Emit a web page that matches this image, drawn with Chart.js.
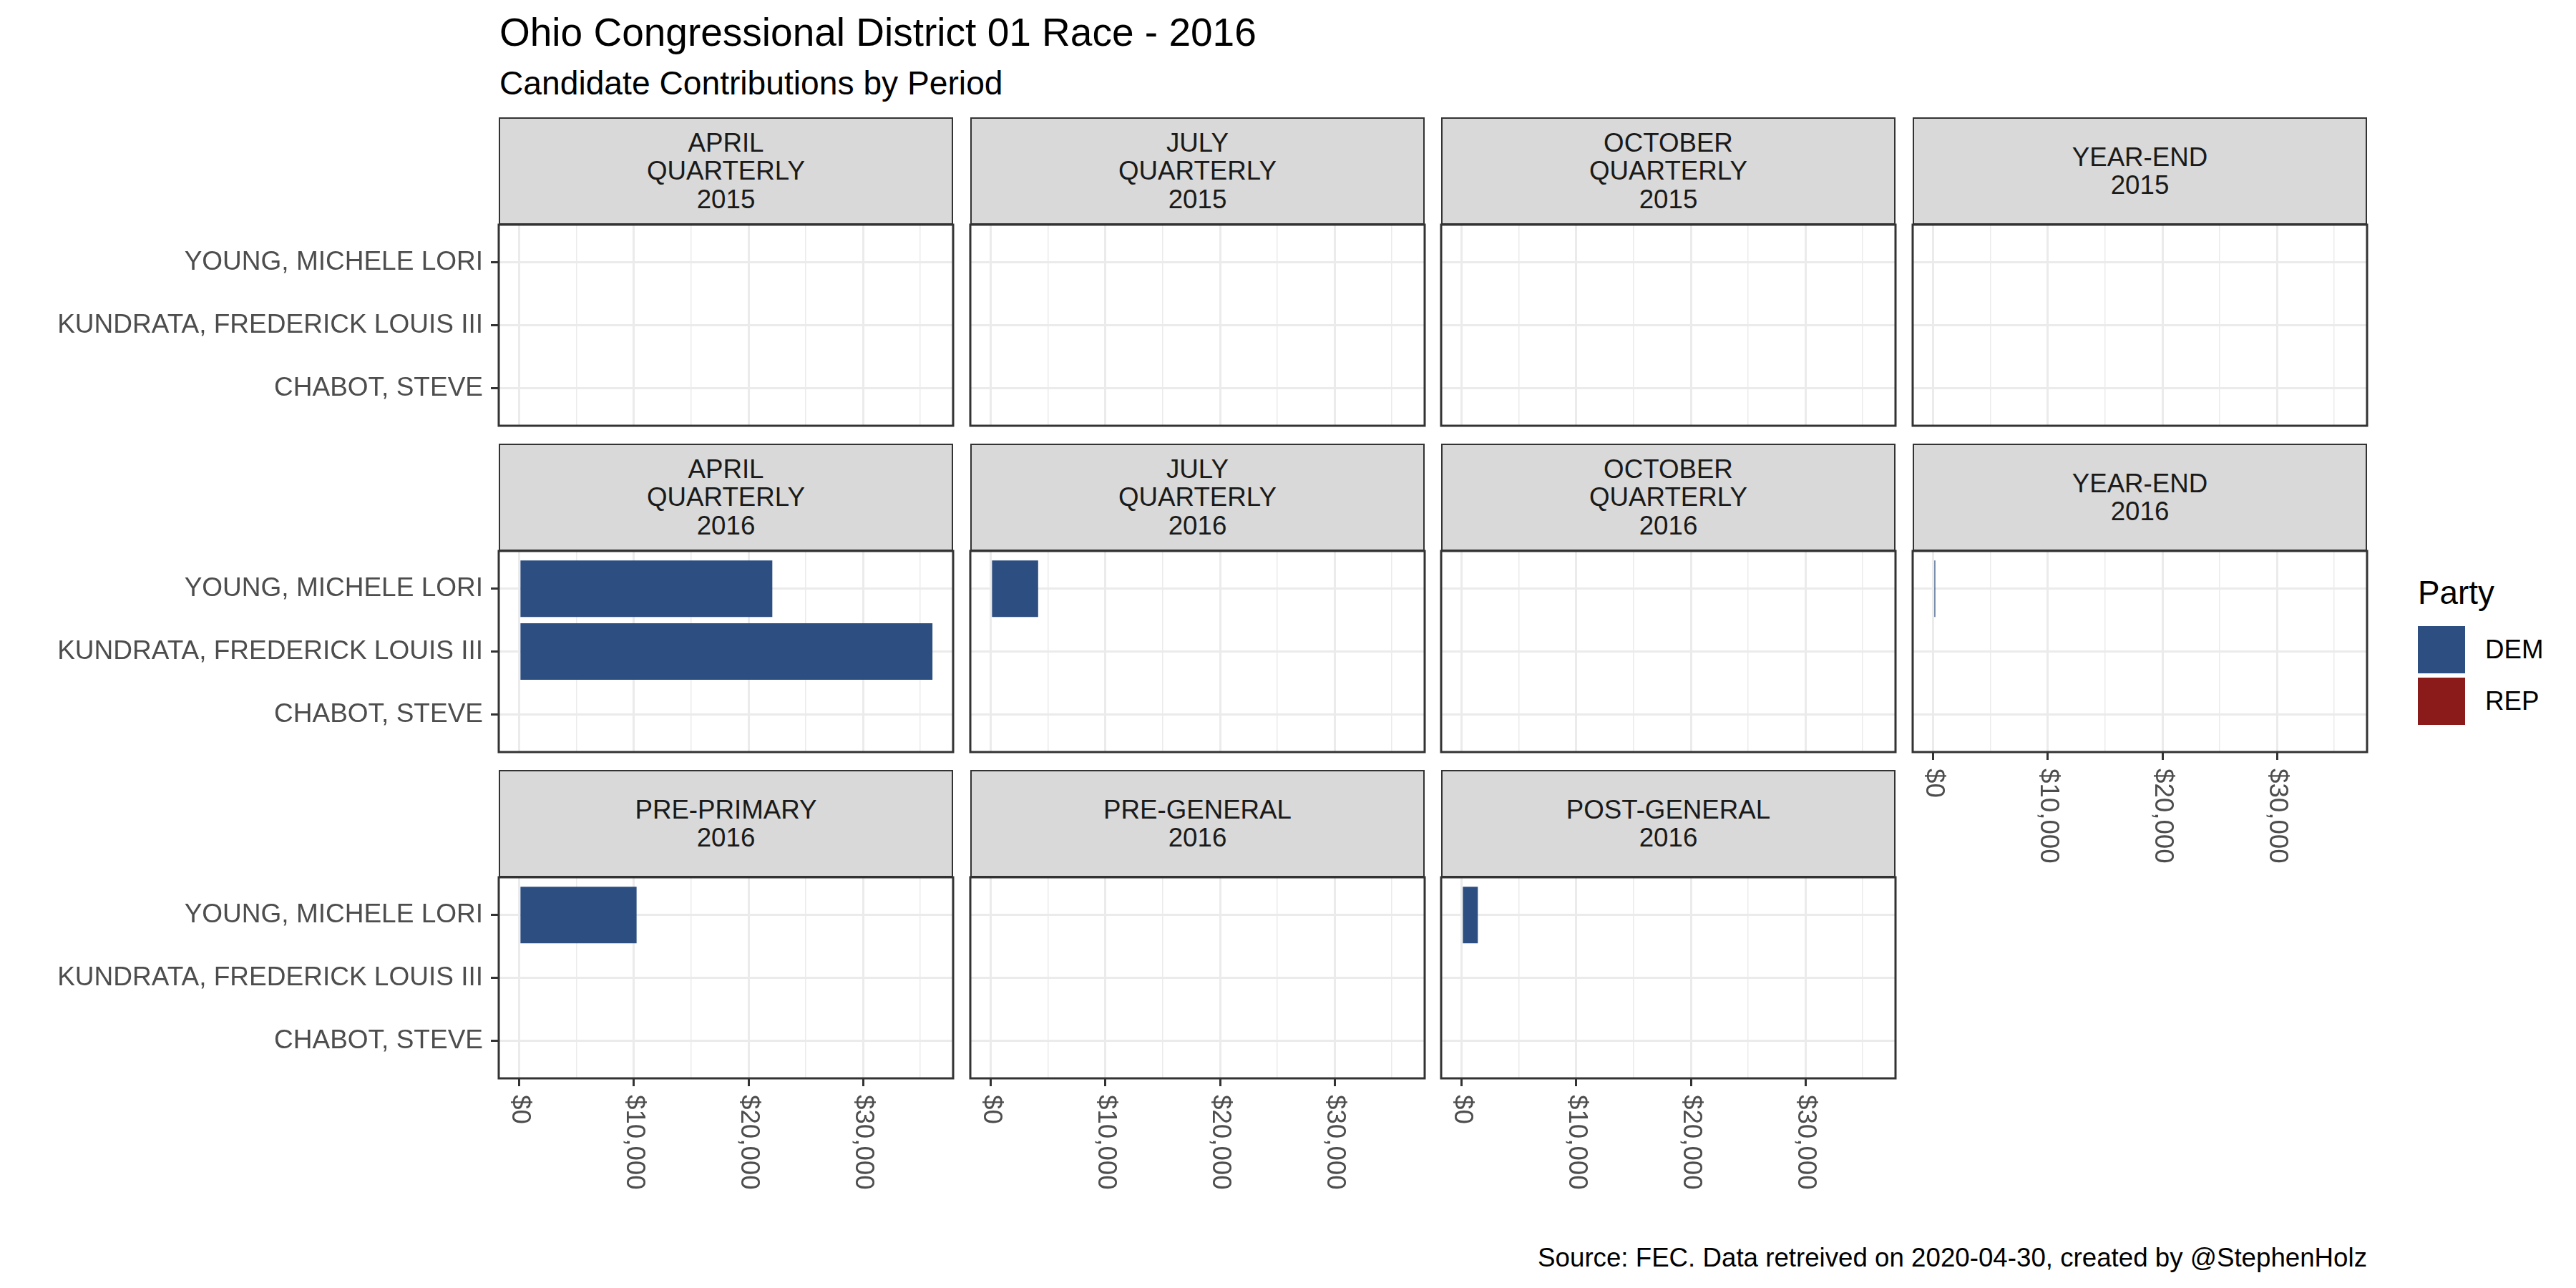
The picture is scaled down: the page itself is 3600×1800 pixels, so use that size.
<!DOCTYPE html>
<html>
<head>
<meta charset="utf-8">
<script src="https://cdn.jsdelivr.net/npm/chart.js@4.4.1/dist/chart.umd.min.js"></script>
<style>
  html, body { margin: 0; padding: 0; background: #ffffff; }
  body { width: 3600px; height: 1800px; position: relative; overflow: hidden;
         font-family: "Liberation Sans", Arial, Helvetica, sans-serif; }
  .abs { position: absolute; white-space: nowrap; }
  .strip { position: absolute; box-sizing: border-box; background: #D9D9D9; border: 2px solid #333333;
           display: flex; align-items: center; justify-content: center; text-align: center;
           font-size: 36.7px; line-height: 39.5px; color: #1A1A1A; white-space: pre-line; }
  canvas { position: absolute; }
</style>
</head>
<body>
<div class="abs" style="left:698px;top:18px;font-size:55px;line-height:55px;color:#000;">Ohio Congressional District 01 Race - 2016</div>
<div class="abs" style="left:698px;top:93px;font-size:46.2px;line-height:46.2px;color:#000;">Candidate Contributions by Period</div>
<div class="abs" style="right:292px;top:1740px;font-size:36.7px;line-height:36.7px;color:#000;">Source: FEC. Data retreived on 2020-04-30, created by @StephenHolz</div>
<div id="legend"></div>

<script>
// ---------------- DATA ----------------
const periods = [
  'APRIL\nQUARTERLY\n2015', 'JULY\nQUARTERLY\n2015', 'OCTOBER\nQUARTERLY\n2015', 'YEAR-END\n2015',
  'APRIL\nQUARTERLY\n2016', 'JULY\nQUARTERLY\n2016', 'OCTOBER\nQUARTERLY\n2016', 'YEAR-END\n2016',
  'PRE-PRIMARY\n2016', 'PRE-GENERAL\n2016', 'POST-GENERAL\n2016'
];
const candidates = ['YOUNG, MICHELE LORI', 'KUNDRATA, FREDERICK LOUIS III', 'CHABOT, STEVE'];
const candidateParty = ['DEM', 'DEM', 'REP'];
// contributions per period (same order as periods); null = no bar
const youngValues    = [null, null, null, null, 22080, 4120, null, 170, 10230, null, 1400];
const kundrataValues = [null, null, null, null, 36060, null, null, null, null, null, null];
const chabotValues   = [null, null, null, null, null, null, null, null, null, null, null];
const parties = ['DEM', 'REP'];
const partyColors = ['#2D4E80', '#8B1A1A'];
const xTickValues = [0, 5000, 10000, 15000, 20000, 25000, 30000, 35000];
const legendTitle = 'Party';

// ---------------- LAYOUT ----------------
const FONT = '"Liberation Sans", Arial, Helvetica, sans-serif';
const COL_X = [697, 1356, 2014, 2673];
const ROW_Y = [164, 620, 1076];
const PANEL_W = 635, PANEL_H = 281, STRIP_H = 150;
const Y_W = 680, X_H = 170, PAD = 3;

const seriesByCandidate = [youngValues, kundrataValues, chabotValues];
const allVals = seriesByCandidate.flat().filter(v => v !== null);
const dataMax = Math.max(0, ...allVals);
const xMin = 0 - dataMax * 0.05, xMax = dataMax * 1.05;

const colorOf = party => partyColors[parties.indexOf(party)];
const isMajor = v => v % 10000 === 0;

const facetPlugin = {
  id: 'facet',
  afterDatasetsDraw(chart) {
    const {ctx, chartArea: a} = chart;
    ctx.save();
    ctx.strokeStyle = '#333333';
    ctx.lineWidth = 3;
    ctx.strokeRect(a.left, a.top, a.right - a.left, a.bottom - a.top);
    ctx.restore();
  },
  afterDraw(chart, args, opts) {
    if (!opts.xLabels) return;
    const s = chart.scales.x;
    const ctx = chart.ctx;
    ctx.save();
    ctx.fillStyle = '#4D4D4D';
    ctx.font = '36.7px ' + FONT;
    ctx.textAlign = 'left';
    ctx.textBaseline = 'middle';
    s.ticks.forEach(t => {
      if (!t.label) return;
      const x = s.getPixelForValue(t.value);
      ctx.save();
      ctx.translate(x, s.top + 23);
      ctx.rotate(Math.PI / 2);
      ctx.fillText(t.label, 0, 0);
      ctx.restore();
    });
    ctx.restore();
  }
};

periods.forEach((period, p) => {
  const row = Math.floor(p / 4), col = p % 4;
  const hasY = col === 0;
  const hasX = row === 2 || (row === 1 && col === 3);
  const yW = hasY ? Y_W : 0;
  const xH = hasX ? X_H : 0;

  // strip
  const strip = document.createElement('div');
  strip.className = 'strip';
  strip.style.left = COL_X[col] + 'px';
  strip.style.top = ROW_Y[row] + 'px';
  strip.style.width = PANEL_W + 'px';
  strip.style.height = STRIP_H + 'px';
  strip.textContent = period;
  document.body.appendChild(strip);

  // panel canvas
  const cv = document.createElement('canvas');
  const w = PANEL_W + yW + 2 * PAD, h = PANEL_H + xH + 2 * PAD;
  cv.width = w; cv.height = h;
  cv.style.width = w + 'px'; cv.style.height = h + 'px';
  cv.style.left = (COL_X[col] - yW - PAD) + 'px';
  cv.style.top = (ROW_Y[row] + STRIP_H - PAD) + 'px';
  document.body.appendChild(cv);

  const data = candidates.map((c, i) => ({x: seriesByCandidate[i][p], y: i}));

  new Chart(cv, {
    type: 'bar',
    data: {
      datasets: [{
        label: 'Contributions',
        data: data,
        backgroundColor: candidateParty.map(colorOf),
        borderWidth: 0,
        barPercentage: 0.9,
        categoryPercentage: 1.0
      }]
    },
    options: {
      indexAxis: 'y',
      responsive: false,
      maintainAspectRatio: false,
      animation: false,
      devicePixelRatio: 1,
      layout: {padding: {left: PAD, right: PAD, top: PAD, bottom: PAD}},
      plugins: {legend: {display: false}, tooltip: {enabled: false}, facet: {xLabels: hasX}},
      scales: {
        x: {
          type: 'linear', position: 'bottom', min: xMin, max: xMax, offset: false,
          afterBuildTicks: s => { s.ticks = xTickValues.map(v => ({value: v})); },
          afterFit: s => { s.height = xH; s.paddingLeft = 0; s.paddingRight = 0; },
          border: {display: false},
          grid: {
            offset: false,
            color: '#EBEBEB',
            lineWidth: c => (c.tick && isMajor(c.tick.value)) ? 3 : 1.5,
            drawTicks: hasX, tickLength: 11, tickWidth: 3,
            tickColor: c => (c.tick && isMajor(c.tick.value)) ? '#333333' : 'rgba(0,0,0,0)'
          },
          ticks: {display: false, autoSkip: false,
                  callback: v => isMajor(v) ? '$' + v.toLocaleString('en-US') : ''}
        },
        y: {
          type: 'linear', position: 'left', min: -0.6, max: 2.6, reverse: true, offset: false,
          afterBuildTicks: s => { s.ticks = candidates.map((c, i) => ({value: i})); },
          afterFit: s => { s.width = yW; s.paddingTop = 0; s.paddingBottom = 0; },
          border: {display: false},
          grid: {offset: false, color: '#EBEBEB', lineWidth: 3, drawTicks: hasY, tickLength: 11, tickWidth: 3, tickColor: '#333333'},
          ticks: {display: hasY, autoSkip: false, padding: 11, color: '#4D4D4D',
                  font: {family: FONT, size: 37},
                  callback: v => candidates[v] !== undefined ? candidates[v] : ''}
        }
      }
    },
    plugins: [facetPlugin]
  });
});

// legend
const lg = document.getElementById('legend');
const lt = document.createElement('div');
lt.className = 'abs';
lt.style.cssText = 'left:3379px;top:806px;font-size:45.8px;line-height:45.8px;color:#000;';
lt.textContent = legendTitle;
lg.appendChild(lt);
parties.forEach((party, i) => {
  const top = 875 + i * 72;
  const key = document.createElement('div');
  key.className = 'abs';
  key.style.cssText = `left:3379px;top:${top}px;width:66px;height:66px;background:${partyColors[i]};`;
  lg.appendChild(key);
  const lab = document.createElement('div');
  lab.className = 'abs';
  lab.style.cssText = `left:3473px;top:${top}px;height:66px;line-height:66px;font-size:36.7px;color:#000;`;
  lab.textContent = party;
  lg.appendChild(lab);
});
</script>
</body>
</html>
